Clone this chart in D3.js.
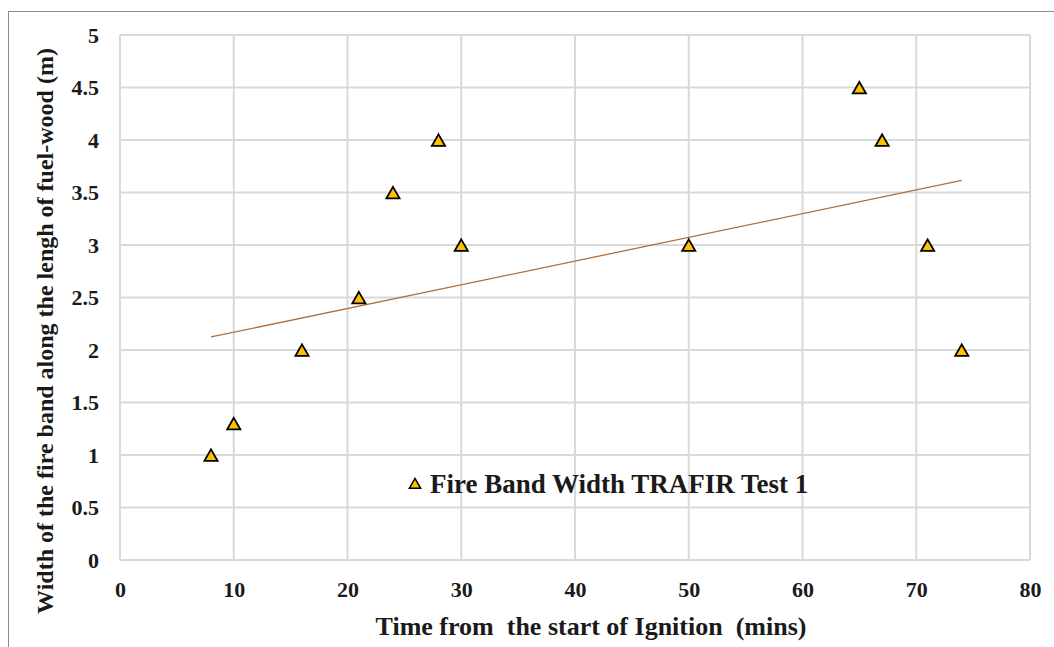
<!DOCTYPE html>
<html>
<head>
<meta charset="utf-8">
<script src="https://cdn.jsdelivr.net/npm/d3@7"></script>
<style>
  html, body { margin: 0; padding: 0; background: #fff; }
  svg { display: block; }
</style>
</head>
<body>
<svg id="chart" width="1054" height="647"></svg>
<script>
// Fire band width measurements, TRAFIR Test 1
const timeMins = [8, 10, 16, 21, 24, 28, 30, 50, 65, 67, 71, 74];
const bandWidth = [1, 1.3, 2, 2.5, 3.5, 4, 3, 3, 4.5, 4, 3, 2];
const xTicks = [0, 10, 20, 30, 40, 50, 60, 70, 80];
const yTicks = [0, 0.5, 1, 1.5, 2, 2.5, 3, 3.5, 4, 4.5, 5];
const seriesName = "Fire Band Width TRAFIR Test 1";
const xTitle = "Time from  the start of Ignition  (mins)";
const yTitle = "Width of the fire band along the lengh of fuel-wood (m)";

const svg = d3.select("#chart");
const font = "'Liberation Serif', 'Times New Roman', serif";
const margin = { left: 120, top: 35, right: 1030, bottom: 560 };

const x = d3.scaleLinear().domain([0, 80]).range([margin.left, margin.right]);
const y = d3.scaleLinear().domain([0, 5]).range([margin.bottom, margin.top]);

// chart frame
svg.append("rect")
  .attr("x", 8.5).attr("y", 11.5)
  .attr("width", 1100).attr("height", 700)
  .attr("fill", "none").attr("stroke", "#8c8c8c").attr("stroke-width", 1);

// gridlines
const grid = svg.append("g").attr("stroke", "#d9d9d9").attr("stroke-width", 2);
grid.selectAll("line.v").data(xTicks).join("line")
  .attr("x1", d => x(d)).attr("x2", d => x(d))
  .attr("y1", y(0)).attr("y2", y(5));
grid.selectAll("line.h").data(yTicks).join("line")
  .attr("x1", x(0)).attr("x2", x(80))
  .attr("y1", d => y(d)).attr("y2", d => y(d));

// axes (labels only; lines come from the grid)
const xAxis = svg.append("g")
  .attr("transform", `translate(0,${y(0) + 21})`)
  .call(d3.axisBottom(x).tickValues(xTicks).tickFormat(d3.format("d")).tickSize(0).tickPadding(0));
const yAxis = svg.append("g")
  .attr("transform", `translate(${x(0) - 21},0)`)
  .call(d3.axisLeft(y).tickValues(yTicks).tickFormat(d => String(d)).tickSize(0).tickPadding(0));
[xAxis, yAxis].forEach(a => {
  a.select(".domain").remove();
  a.selectAll("text")
    .attr("font-family", font).attr("font-weight", "bold")
    .attr("font-size", 22).attr("fill", "#1a1a1a");
});
xAxis.selectAll("text").attr("dy", "0.71em");

// linear trendline (least squares)
const mx = d3.mean(timeMins), my = d3.mean(bandWidth);
const sxy = d3.sum(timeMins, (t, i) => (t - mx) * (bandWidth[i] - my));
const sxx = d3.sum(timeMins, t => (t - mx) * (t - mx));
const slope = sxy / sxx, intercept = my - slope * mx;
const xMin = d3.min(timeMins), xMax = d3.max(timeMins);
svg.append("line")
  .attr("x1", x(xMin)).attr("y1", y(intercept + slope * xMin))
  .attr("x2", x(xMax)).attr("y2", y(intercept + slope * xMax))
  .attr("stroke", "#b0703c").attr("stroke-width", 1.3);

// triangle markers
const tri = d3.symbol().type(d3.symbolTriangle).size(75);
svg.append("g").selectAll("path").data(timeMins).join("path")
  .attr("d", tri)
  .attr("transform", (t, i) => `translate(${x(t)},${y(bandWidth[i]) + 2})`)
  .attr("fill", "#ffc000").attr("stroke", "#000").attr("stroke-width", 1.8);

// legend
const lg = svg.append("g").attr("transform", "translate(415,485)");
lg.append("path").attr("d", d3.symbol().type(d3.symbolTriangle).size(55))
  .attr("fill", "#ffc000").attr("stroke", "#000").attr("stroke-width", 1.5);
lg.append("text").attr("x", 15).attr("y", 8)
  .attr("font-family", font).attr("font-weight", "bold").attr("font-size", 27)
  .attr("fill", "#1a1a1a").text(seriesName);

// axis titles
svg.append("text")
  .attr("x", 591).attr("y", 635)
  .attr("text-anchor", "middle")
  .attr("font-family", font).attr("font-weight", "bold").attr("font-size", 26)
  .attr("fill", "#1a1a1a").style("white-space", "pre")
  .text(xTitle);
svg.append("text")
  .attr("transform", `translate(53,331) rotate(-90)`)
  .attr("text-anchor", "middle")
  .attr("font-family", font).attr("font-weight", "bold").attr("font-size", 24)
  .attr("fill", "#1a1a1a")
  .text(yTitle);
</script>
</body>
</html>
